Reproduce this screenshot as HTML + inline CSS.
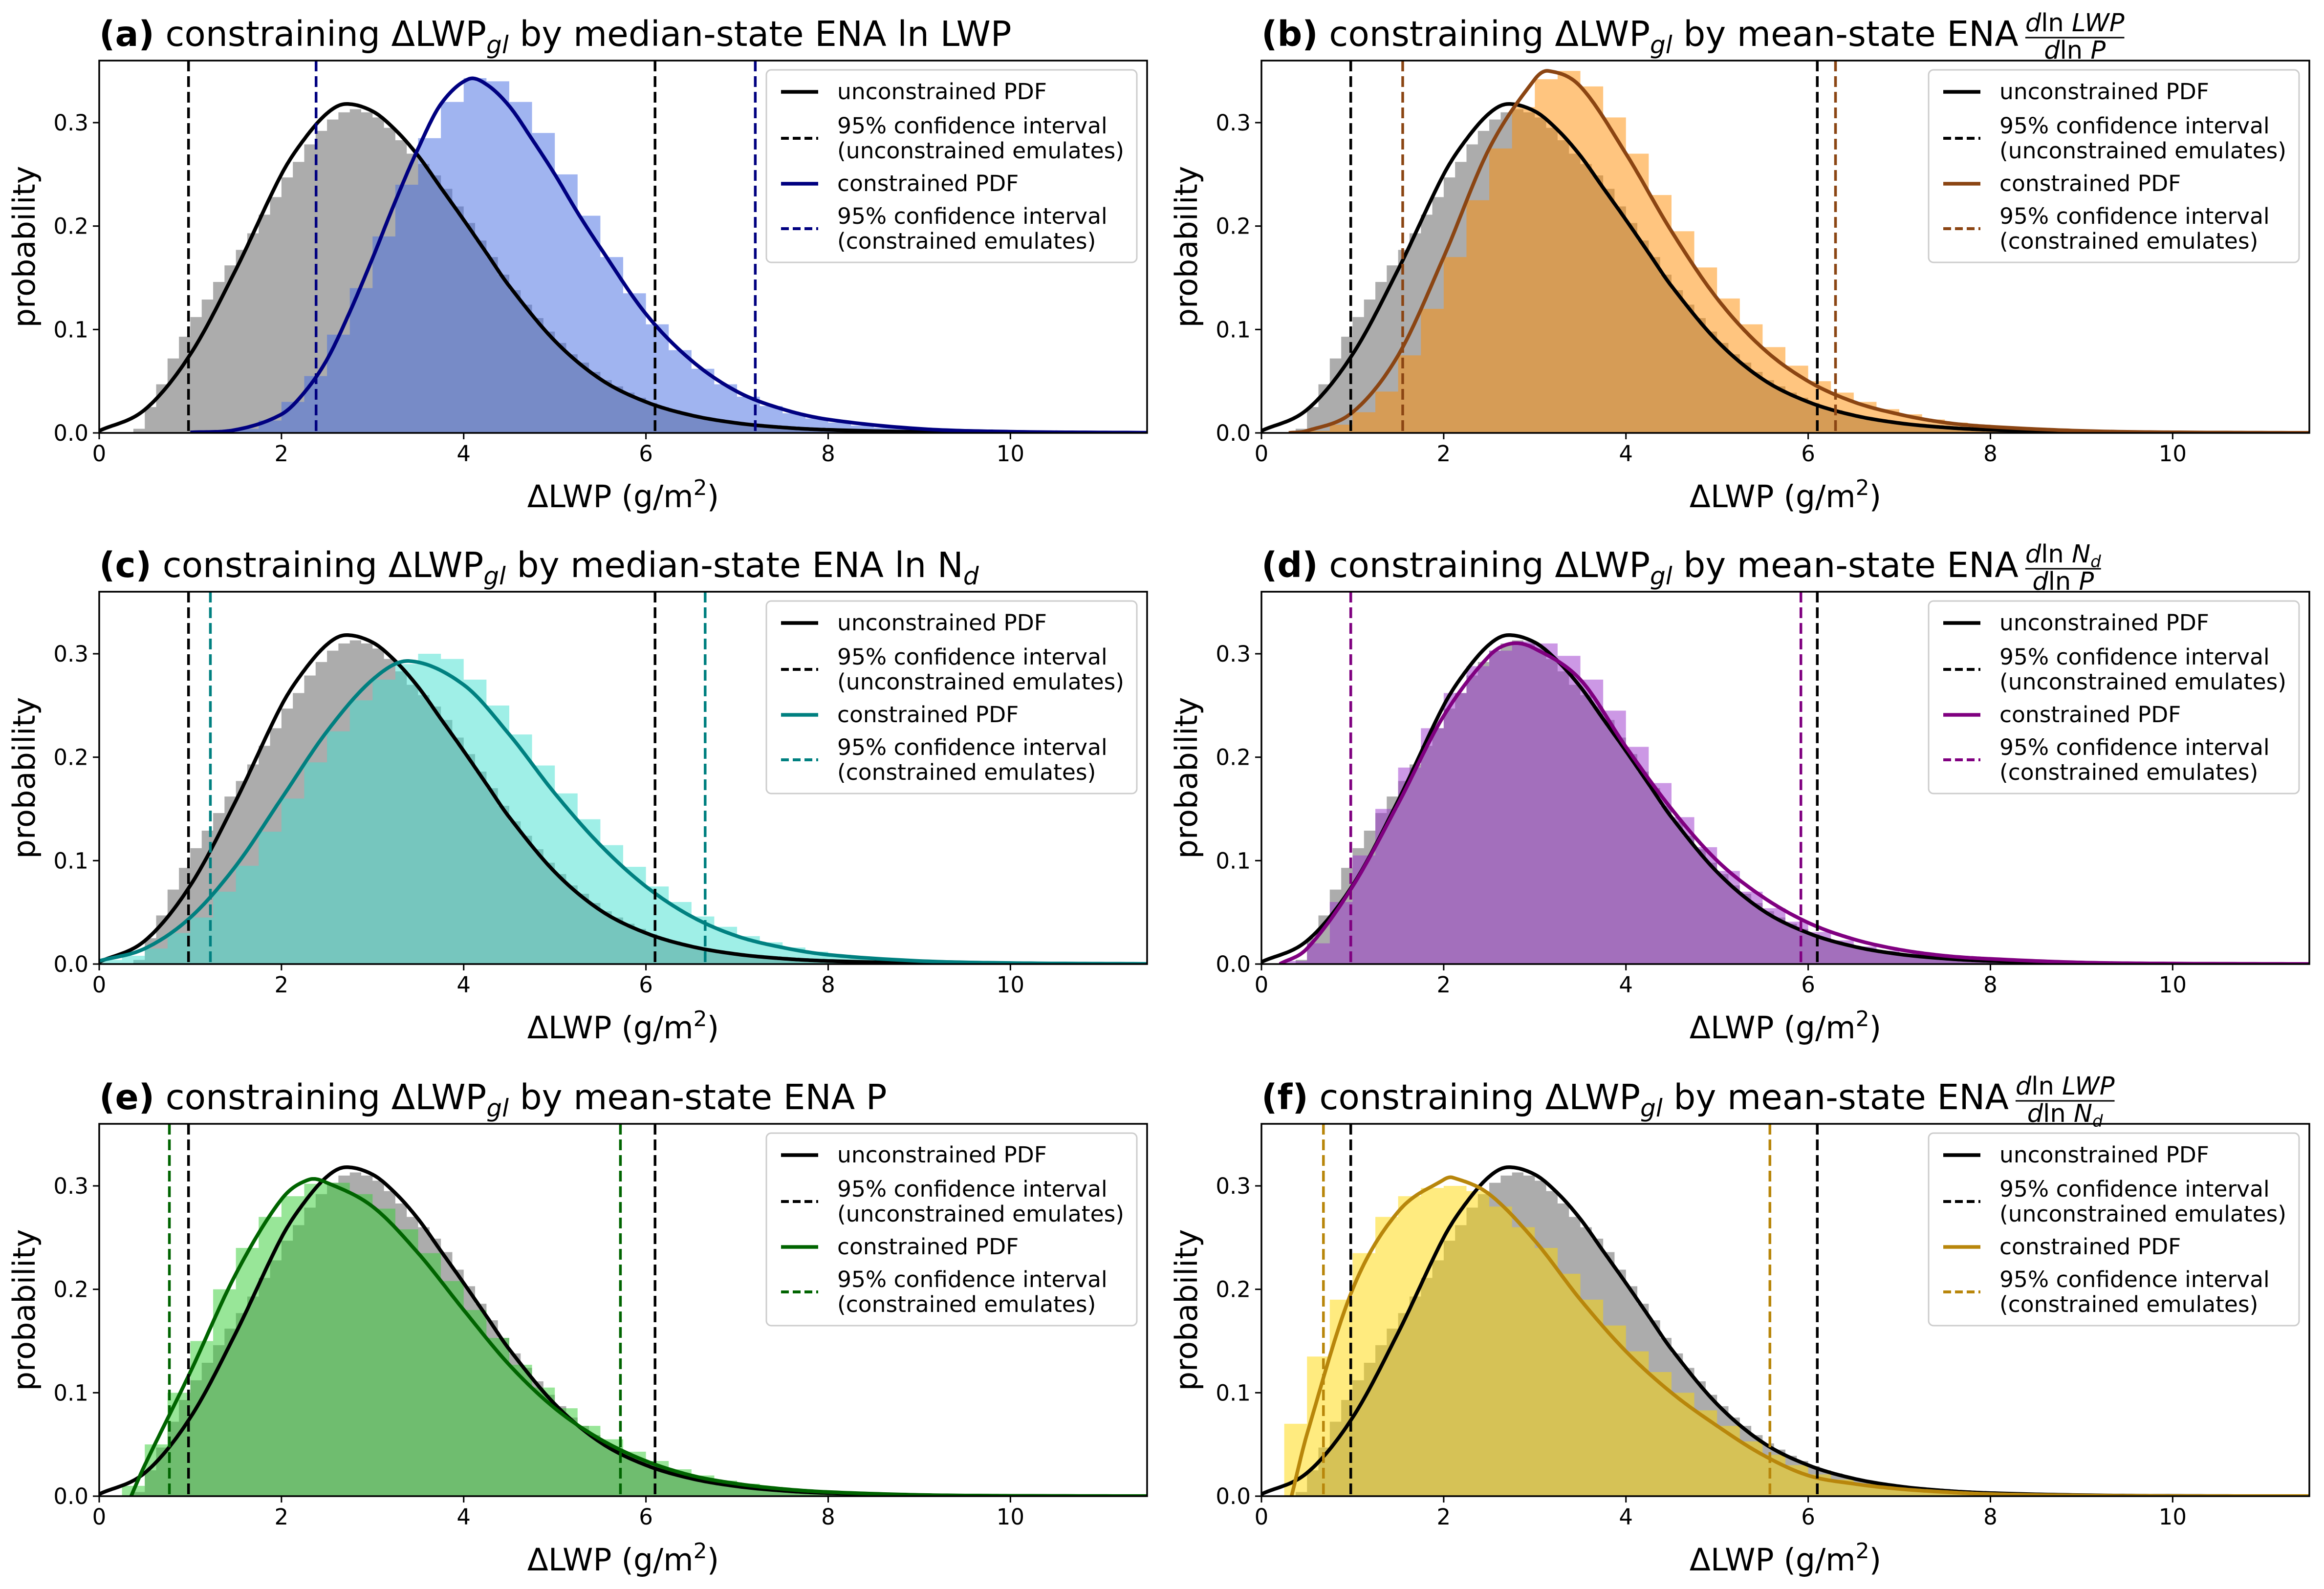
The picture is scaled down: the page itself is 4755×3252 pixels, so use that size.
<!DOCTYPE html>
<html><head><meta charset="utf-8"><style>
html,body{margin:0;padding:0;background:#fff;}
svg{display:block;font-family:"DejaVu Sans","Liberation Sans",sans-serif;}
</style></head><body>
<svg id="fig" width="4755" height="3252" viewBox="0 0 4755 3252" xmlns="http://www.w3.org/2000/svg"></svg>
<script>
// ---- data ----
const xTicks=[0,2,4,6,8,10];
const yTicks=[0.0,0.1,0.2,0.3];
const xTickLabels=["0","2","4","6","8","10"];
const yTickLabels=["0.0","0.1","0.2","0.3"];
const xMax=11.5, yMax=0.36, binW=0.25, uncBinW=0.125;

const uncX=[0,0.5,1,1.5,2,2.25,2.5,2.7,3,3.25,3.5,3.75,4,4.25,4.5,5,5.5,6,6.5,7,7.5,8,9,10,11.5];
const uncY=[0.002,0.0225,0.076,0.158,0.25,0.284,0.309,0.318,0.311,0.293,0.268,0.237,0.206,0.174,0.142,0.089,0.052,0.03,0.017,0.0095,0.0053,0.003,0.001,0.0003,0.0001];
const uncHistStart=0.375;
const uncHist=[0.004,0.025,0.047,0.072,0.093,0.112,0.129,0.146,0.162,0.177,0.193,0.211,0.228,0.247,0.262,0.279,0.292,0.303,0.310,0.313,0.310,0.305,0.295,0.283,0.27,0.26,0.249,0.236,0.219,0.203,0.186,0.17,0.153,0.138,0.124,0.111,0.098,0.087,0.076,0.068,0.059,0.051,0.045,0.039,0.034,0.029,0.025,0.022,0.019,0.016,0.014,0.012,0.010,0.009,0.008,0.007,0.006,0.005,0.004,0.0035,0.003,0.0025,0.002,0.002,0.0015,0.001,0.001,0.001,0.001,0.0005];
const uncCI=[0.98,6.1];

const aX=[1,1.5,2,2.25,2.5,2.75,3,3.25,3.5,3.75,4.05,4.25,4.5,4.75,5,5.25,5.5,6,6.5,7,7.5,8,9,10,11.5];
const aY=[0.0005,0.003,0.018,0.039,0.071,0.117,0.169,0.224,0.275,0.318,0.342,0.337,0.316,0.284,0.25,0.213,0.179,0.115,0.07,0.04,0.023,0.013,0.004,0.0012,0.0002];
const aHistStart=1.5;
const aHist=[0.004,0.012,0.03,0.055,0.095,0.14,0.19,0.24,0.285,0.32,0.343,0.34,0.32,0.29,0.25,0.21,0.17,0.135,0.105,0.08,0.062,0.047,0.035,0.026,0.019,0.014,0.01,0.007,0.005,0.004,0.003,0.002,0.001,0.001];
const aCI=[2.38,7.2];

const bX=[0.3,0.5,1,1.5,2,2.5,3,3.15,3.5,4,4.5,5,5.5,6,6.5,7,7.5,8,9,10,11.5];
const bY=[0,0.002,0.02,0.075,0.17,0.275,0.342,0.35,0.335,0.27,0.195,0.13,0.082,0.05,0.03,0.018,0.01,0.006,0.002,0.0006,0.0001];
const bHistStart=0.5;
const bHist=[0.002,0.008,0.02,0.04,0.075,0.12,0.17,0.225,0.275,0.315,0.342,0.35,0.335,0.305,0.27,0.23,0.195,0.16,0.13,0.105,0.083,0.065,0.05,0.039,0.03,0.023,0.018,0.013,0.01,0.008,0.006,0.004,0.003,0.002,0.002,0.001,0.001,0.001];
const bCI=[1.55,6.3];

const cX=[0,0.5,1,1.5,2,2.5,3,3.4,4,4.5,5,5.5,6,6.5,7,7.5,8,9,10,11.5];
const cY=[0.003,0.015,0.045,0.095,0.16,0.225,0.275,0.293,0.27,0.222,0.165,0.115,0.075,0.046,0.027,0.016,0.009,0.003,0.001,0.0002];
const cHistStart=0;
const cHist=[0.004,0.008,0.015,0.03,0.045,0.07,0.095,0.128,0.16,0.195,0.225,0.255,0.275,0.29,0.3,0.295,0.275,0.25,0.222,0.192,0.165,0.14,0.115,0.094,0.075,0.06,0.046,0.036,0.027,0.021,0.016,0.012,0.009,0.007,0.005,0.004,0.003,0.002,0.001,0.001];
const cCI=[1.22,6.65];

const dX=[0.2,0.5,1,1.5,2,2.5,2.75,3,3.5,4,4.5,5,5.5,6,6.5,7,7.5,8,9,10,11.5];
const dY=[0,0.015,0.075,0.155,0.24,0.298,0.31,0.305,0.275,0.21,0.15,0.1,0.065,0.04,0.024,0.014,0.008,0.005,0.0015,0.0005,0.0001];
const dHistStart=0.25;
const dHist=[0.003,0.02,0.06,0.105,0.15,0.19,0.228,0.262,0.288,0.303,0.312,0.31,0.298,0.275,0.245,0.21,0.175,0.142,0.113,0.09,0.07,0.054,0.041,0.031,0.023,0.017,0.013,0.01,0.007,0.005,0.004,0.003,0.002,0.001,0.001,0.001,0,0,0];
const dCI=[0.98,5.92];

const eX=[0.35,0.5,1,1.5,2,2.3,2.5,3,3.5,4,4.5,5,5.5,6,6.5,7,7.5,8,9,10,11.5];
const eY=[0,0.03,0.12,0.215,0.287,0.306,0.303,0.28,0.235,0.18,0.127,0.085,0.055,0.034,0.02,0.012,0.007,0.004,0.0012,0.0004,0.0001];
const eHistStart=0.25;
const eHist=[0.01,0.05,0.1,0.15,0.2,0.24,0.27,0.29,0.302,0.303,0.292,0.278,0.258,0.235,0.208,0.18,0.153,0.127,0.105,0.085,0.068,0.055,0.043,0.034,0.026,0.02,0.015,0.012,0.009,0.007,0.005,0.004,0.003,0.002,0.001,0.001];
const eCI=[0.77,5.72];

const fX=[0.33,0.5,1,1.5,2,2.1,2.5,3,3.5,4,4.5,5,5.5,6,6.5,7,7.5,8,9,10,11.5];
const fY=[0,0.06,0.2,0.275,0.306,0.308,0.292,0.247,0.19,0.14,0.1,0.068,0.04,0.02,0.012,0.007,0.004,0.002,0.0007,0.0002,0.0001];
const fHistStart=0.25;
const fHist=[0.07,0.135,0.19,0.235,0.27,0.29,0.298,0.3,0.295,0.28,0.26,0.24,0.215,0.19,0.165,0.14,0.12,0.1,0.083,0.068,0.053,0.04,0.03,0.021,0.016,0.012,0.009,0.007,0.005,0.004,0.003,0.002,0.001,0.001];
const fCI=[0.68,5.58];

// ---- layout ----
const NS="http://www.w3.org/2000/svg";
const svg=document.getElementById('fig');
function mk(tag,attrs,parent){const e=document.createElementNS(NS,tag);for(const k in attrs)e.setAttribute(k,attrs[k]);(parent||svg).appendChild(e);return e;}
const FW=2144, FH=762;
const panels=[
 {id:'a',L:203,T:124,X:aX,Y:aY,hs:aHistStart,h:aHist,ci:aCI,fill:'rgb(65,105,225)',line:'#000080',title:' constraining ΔLWP',tail:' by median-state ENA ln LWP',frac:null},
 {id:'b',L:2581,T:124,X:bX,Y:bY,hs:bHistStart,h:bHist,ci:bCI,fill:'rgb(255,140,0)',line:'#8b4513',title:' constraining ΔLWP',tail:' by mean-state ENA ',frac:['LWP','P']},
 {id:'c',L:203,T:1211,X:cX,Y:cY,hs:cHistStart,h:cHist,ci:cCI,fill:'rgb(64,224,208)',line:'#008080',title:' constraining ΔLWP',tail:' by median-state ENA ln N',sub:'d',frac:null},
 {id:'d',L:2581,T:1211,X:dX,Y:dY,hs:dHistStart,h:dHist,ci:dCI,fill:'rgb(153,50,204)',line:'#800080',title:' constraining ΔLWP',tail:' by mean-state ENA ',frac:['Nd','P']},
 {id:'e',L:203,T:2300,X:eX,Y:eY,hs:eHistStart,h:eHist,ci:eCI,fill:'rgb(50,205,50)',line:'#006400',title:' constraining ΔLWP',tail:' by mean-state ENA P',frac:null},
 {id:'f',L:2581,T:2300,X:fX,Y:fY,hs:fHistStart,h:fHist,ci:fCI,fill:'rgb(255,215,0)',line:'#b8860b',title:' constraining ΔLWP',tail:' by mean-state ENA ',frac:['LWP','Nd']}
];

function interp(xs,ys,n){
  const m=xs.length,t=[];
  for(let i=0;i<m;i++){
    if(i===0)t[i]=(ys[1]-ys[0])/(xs[1]-xs[0]);
    else if(i===m-1)t[i]=(ys[m-1]-ys[m-2])/(xs[m-1]-xs[m-2]);
    else t[i]=(ys[i+1]-ys[i-1])/(xs[i+1]-xs[i-1]);
  }
  const out=[];
  for(let i=0;i<m-1;i++){const h=xs[i+1]-xs[i];for(let j=0;j<n;j++){const u=j/n,h00=2*u*u*u-3*u*u+1,h10=u*u*u-2*u*u+u,h01=-2*u*u*u+3*u*u,h11=u*u*u-u*u;out.push([xs[i]+u*h,Math.max(0,h00*ys[i]+h10*h*t[i]+h01*ys[i+1]+h11*h*t[i+1])]);}}
  out.push([xs[m-1],ys[m-1]]);return out;
}

panels.forEach(p=>{
  const sx=v=>p.L+v/xMax*FW, sy=v=>p.T+FH-v/yMax*FH;
  const g=mk('g',{});
  
  
  const clipId='clip'+p.id;
  const cp=mk('clipPath',{id:clipId},g);mk('rect',{x:p.L,y:p.T,width:FW,height:FH},cp);
  const plot=mk('g',{'clip-path':'url(#'+clipId+')'},g);
  function hist(start,vals,bw,fill,op,name){
    let d='M'+sx(start)+','+sy(0);
    vals.forEach((v,i)=>{const x0=sx(start+i*bw),x1=sx(start+(i+1)*bw);d+=' L'+x0+','+sy(v)+' L'+x1+','+sy(v);});
    d+=' L'+sx(start+vals.length*bw)+','+sy(0)+' Z';
    const e=mk('path',{d:d,fill:fill,'fill-opacity':op,stroke:'none'},plot);
    
    
  }
  hist(uncHistStart,uncHist,uncBinW,'rgb(128,128,128)',0.65,'unconstrained-histogram');
  hist(p.hs,p.h,binW,p.fill,0.5,'constrained-histogram');
  function curve(xs,ys,col,name){
    const pts=interp(xs,ys,20);
    const e=mk('path',{d:'M'+pts.map(q=>sx(q[0]).toFixed(1)+','+sy(q[1]).toFixed(1)).join(' L'),fill:'none',stroke:col,'stroke-width':7.5,'stroke-linejoin':'round'},plot);
    
    
  }
  function vline(x,col,name){
    const e=mk('line',{x1:sx(x),x2:sx(x),y1:p.T,y2:p.T+FH,stroke:col,'stroke-width':5.5,'stroke-dasharray':'22,10'},plot);
    
    
  }
  curve(uncX,uncY,'#000','unconstrained-pdf');
  curve(p.X,p.Y,p.line,'constrained-pdf');
  vline(uncCI[0],'#000','unconstrained-ci-low');vline(uncCI[1],'#000','unconstrained-ci-high');
  vline(p.ci[0],p.line,'constrained-ci-low');vline(p.ci[1],p.line,'constrained-ci-high');
  const fr=mk('rect',{x:p.L,y:p.T,width:FW,height:FH,fill:'none',stroke:'#000','stroke-width':3.5},g);
  
  
  xTicks.forEach((v,i)=>{
    mk('line',{x1:sx(v),x2:sx(v),y1:p.T+FH,y2:p.T+FH+13,stroke:'#000','stroke-width':3},g);
    const t=mk('text',{x:sx(v),y:p.T+FH+58,'font-size':45,'text-anchor':'middle'},g);t.textContent=xTickLabels[i];
    
    
  });
  yTicks.forEach((v,i)=>{
    mk('line',{x1:p.L-13,x2:p.L,y1:sy(v),y2:sy(v),stroke:'#000','stroke-width':3},g);
    const t=mk('text',{x:p.L-22,y:sy(v)+16,'font-size':45,'text-anchor':'end'},g);t.textContent=yTickLabels[i];
    
    
  });
  const xl=mk('text',{x:p.L+FW/2,y:p.T+FH+152,'font-size':63,'text-anchor':'middle'},g);
  xl.innerHTML='ΔLWP (g/m<tspan dy="-25" font-size="44">2</tspan><tspan dy="25">)</tspan>';
  
  
  const yl=mk('text',{x:0,y:0,'font-size':62,'text-anchor':'middle',transform:'translate('+(p.L-132)+','+(p.T+FH/2)+') rotate(-90)'},g);
  yl.textContent='probability';
  
  
  const tt=mk('text',{x:p.L,y:p.T-30,'font-size':71},g);
  tt.innerHTML='<tspan font-weight="bold">('+p.id+')</tspan>'+p.title+'<tspan dy="15" font-size="50" font-style="italic">gl</tspan><tspan dy="-15">'+p.tail+'</tspan>'+(p.sub?'<tspan dy="15" font-size="50" font-style="italic">'+p.sub+'</tspan>':'');
  
  
  if(p.frac){
    const w=tt.getComputedTextLength();
    const fx=p.L+w+14;
    const fmt=s=>s==='Nd'?'N<tspan dy="10" font-size="34">d</tspan>':s;
    const num=mk('text',{x:0,y:p.T-60,'font-size':51},g);
    num.innerHTML='<tspan font-style="italic">d</tspan>ln <tspan font-style="italic">'+fmt(p.frac[0])+'</tspan>';
    
    
    const den=mk('text',{x:0,y:p.T-4,'font-size':51},g);
    den.innerHTML='<tspan font-style="italic">d</tspan>ln <tspan font-style="italic">'+fmt(p.frac[1])+'</tspan>';
    
    
    const wn=num.getComputedTextLength(),wd=den.getComputedTextLength(),W=Math.max(wn,wd);
    num.setAttribute('x',fx+(W-wn)/2);den.setAttribute('x',fx+(W-wd)/2);
    mk('line',{x1:fx,x2:fx+W,y1:p.T-47,y2:p.T-47,stroke:'#000','stroke-width':3},g);
  }
  const lx=p.L+FW-21-758, ly=p.T+19;
  const lg=mk('g',{},g);
  
  
  mk('rect',{x:lx,y:ly,width:758,height:394,rx:10,fill:'#fff','fill-opacity':0.8,stroke:'#cccccc','stroke-width':3},lg);
  const rows=[
   {c:'#000',dash:null,hy:45,lines:[['unconstrained PDF',60]]},
   {c:'#000',dash:'16,8',hy:140,lines:[['95% confidence interval',130],['(unconstrained emulates)',181]]},
   {c:p.line,dash:null,hy:233,lines:[['constrained PDF',248]]},
   {c:p.line,dash:'16,8',hy:325,lines:[['95% confidence interval',315],['(constrained emulates)',366]]}
  ];
  rows.forEach(r=>{
    const a={x1:lx+30,x2:lx+106,y1:ly+r.hy,y2:ly+r.hy,stroke:r.c,'stroke-width':r.dash?6:7.5};
    if(r.dash)a['stroke-dasharray']=r.dash;
    const h=mk('line',a,lg);
    
    
    r.lines.forEach(l=>{const t=mk('text',{x:lx+145,y:ly+l[1],'font-size':45.5},lg);t.textContent=l[0];
      
      });
  });
});
</script>
</body></html>
